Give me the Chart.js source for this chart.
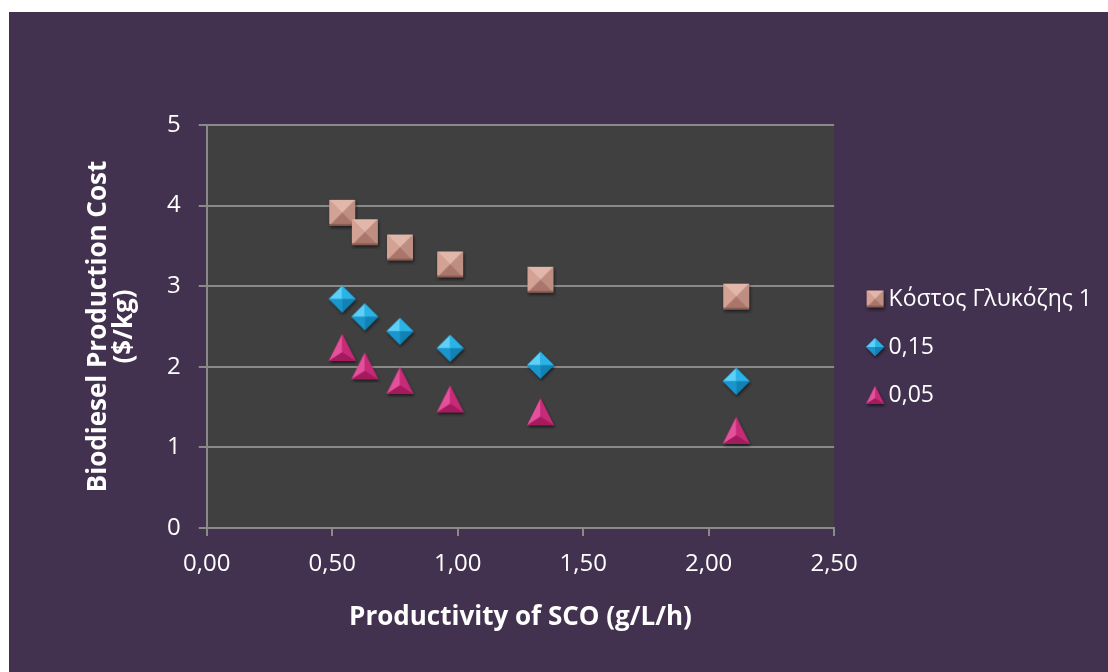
<!DOCTYPE html>
<html>
<head>
<meta charset="utf-8">
<script src="https://cdn.jsdelivr.net/npm/chart.js@4.4.0/dist/chart.umd.min.js"></script>
<style>
  body { margin: 0; background: #ffffff; }
  #wrap { position: absolute; left: 9px; top: 12px; width: 1099px; height: 660px; background: #42314f; }
</style>
</head>
<body>
<div id="wrap"><canvas id="mychart" width="1099" height="660"></canvas></div>
<script>
// values
const xVals = [0.54, 0.63, 0.77, 0.97, 1.33, 2.11];
const costGlucose1 = [3.91, 3.67, 3.48, 3.27, 3.08, 2.87];
const cost015 = [2.84, 2.62, 2.44, 2.23, 2.02, 1.82];
const cost005 = [2.24, 2.01, 1.83, 1.60, 1.44, 1.21];
const seriesNames = ["Κόστος Γλυκόζης 1", "0,15", "0,05"];
const xTitle = "Productivity of SCO (g/L/h)";
const yTitle = ["Biodiesel Production Cost", "($/kg)"];

const FONT = "'Open Sans', 'Noto Sans', sans-serif";

// little bevelled markers like the excel ones
function face(ctx, pts, color) {
  ctx.beginPath();
  ctx.moveTo(pts[0][0], pts[0][1]);
  for (let i = 1; i < pts.length; i++) ctx.lineTo(pts[i][0], pts[i][1]);
  ctx.closePath();
  ctx.fillStyle = color;
  ctx.fill();
}

function makeMarker(kind, s, padL, padR) {
  const m = 4;
  padL = padL || 0;
  padR = padR || 0;
  const c = document.createElement("canvas");
  c.width = s + 2 * m + padL + padR;
  c.height = s + 2 * m;
  const ctx = c.getContext("2d");
  ctx.translate(m + padL, m);
  const h = s / 2;
  // shadow under the marker
  ctx.save();
  ctx.shadowColor = "rgba(0,0,0,0.55)";
  ctx.shadowOffsetX = 1;
  ctx.shadowOffsetY = 2;
  ctx.shadowBlur = 3;
  if (kind == "square") face(ctx, [[0, 0], [s, 0], [s, s], [0, s]], "#b98478");
  if (kind == "diamond") face(ctx, [[h, 0], [s, h], [h, s], [0, h]], "#1690c4");
  if (kind == "triangle") face(ctx, [[h, 0], [s, s], [0, s]], "#c2276f");
  ctx.restore();
  if (kind == "square") {
    const k = s * 0.5;
    face(ctx, [[0, 0], [s, 0], [k, k]], "#e2b7ab");
    face(ctx, [[0, 0], [k, k], [0, s]], "#d3a294");
    face(ctx, [[s, 0], [s, s], [k, k]], "#bf8e82");
    face(ctx, [[0, s], [k, k], [s, s]], "#a8766b");
    face(ctx, [[0, s - 2], [s, s - 2], [s, s], [0, s]], "#8c5d54");
  }
  if (kind == "diamond") {
    face(ctx, [[h, 0], [h, h], [0, h]], "#5cd0f7");
    face(ctx, [[h, 0], [s, h], [h, h]], "#2bb3e8");
    face(ctx, [[s, h], [h, s], [h, h]], "#1282b4");
    face(ctx, [[0, h], [h, h], [h, s]], "#1a96cc");
  }
  if (kind == "triangle") {
    const cy = s * 0.68;
    face(ctx, [[h, 0], [h, cy], [0, s]], "#e4509c");
    face(ctx, [[h, 0], [s, s], [h, cy]], "#c72b78");
    face(ctx, [[0, s], [h, cy], [s, s]], "#a31a5d");
  }
  return c;
}

const bigMarkers = [makeMarker("square", 26), makeMarker("diamond", 27), makeMarker("triangle", 27)];
const smallMarkers = [makeMarker("square", 17, 14, 0), makeMarker("diamond", 18, 14, 0), makeMarker("triangle", 18, 14, 0)];

function toPoints(ys) {
  const pts = [];
  for (let i = 0; i < xVals.length; i++) pts.push({ x: xVals[i], y: ys[i] });
  return pts;
}

// dark plot background
const plotBg = {
  id: "plotBg",
  beforeDraw: (chart) => {
    const a = chart.chartArea;
    const ctx = chart.ctx;
    ctx.save();
    ctx.fillStyle = "#404040";
    ctx.fillRect(a.left, a.top, a.right - a.left, a.bottom - a.top);
    ctx.restore();
  },
};

const lineCol = "#8a8a8a";

const data = {
  datasets: [
    { label: seriesNames[0], data: toPoints(costGlucose1), pointStyle: bigMarkers[0], showLine: false },
    { label: seriesNames[1], data: toPoints(cost015), pointStyle: bigMarkers[1], showLine: false },
    { label: seriesNames[2], data: toPoints(cost005), pointStyle: bigMarkers[2], showLine: false },
  ],
};

const config = {
  type: "scatter",
  data: data,
  options: {
    responsive: false,
    animation: false,
    events: [],
    layout: { padding: { top: 24, bottom: 14, left: 71, right: 6 } },
    scales: {
      x: {
        type: "linear",
        min: 0,
        max: 2.5,
        ticks: {
          stepSize: 0.5,
          color: "#ffffff",
          font: { family: FONT, size: 24 },
          padding: 14,
          callback: (v) => v.toFixed(2).replace(".", ","),
        },
        grid: { drawOnChartArea: false, drawTicks: true, tickLength: 8, color: lineCol, lineWidth: 2 },
        border: { display: true, color: lineCol, width: 2 },
        title: {
          display: true,
          text: xTitle,
          color: "#ffffff",
          font: { family: FONT, size: 26, weight: "bold" },
          padding: { top: 9, bottom: 25 },
        },
      },
      y: {
        min: 0,
        max: 5,
        ticks: {
          stepSize: 1,
          color: "#ffffff",
          font: { family: FONT, size: 24 },
          padding: 18,
        },
        grid: { color: lineCol, lineWidth: 2, tickLength: 8 },
        border: { display: true, color: lineCol, width: 2 },
        title: {
          display: true,
          text: yTitle,
          color: "#ffffff",
          font: { family: FONT, size: 26, weight: "bold", lineHeight: 1.0 },
          padding: { top: 6, bottom: 11 },
        },
      },
    },
    plugins: {
      title: { display: true, text: " ", font: { size: 10 }, padding: { top: 77, bottom: 0 } },
      tooltip: { enabled: false },
      legend: {
        position: "right",
        maxWidth: 300,
        labels: {
          usePointStyle: true,
          pointStyleWidth: 18,
          padding: 25,
          color: "#ffffff",
          font: { family: FONT, size: 23 },
          generateLabels: (chart) => {
            return chart.data.datasets.map((ds, i) => ({
              text: ds.label,
              pointStyle: smallMarkers[i],
              fontColor: "#ffffff",
              datasetIndex: i,
              hidden: false,
              lineWidth: 0,
            }));
          },
        },
      },
    },
  },
  plugins: [plotBg],
};

// wait for the fonts so the text gets measured right
Promise.all([
  document.fonts.load("24px 'Open Sans'"),
  document.fonts.load("bold 26px 'Open Sans'"),
  document.fonts.load("23px 'Open Sans'", "Κόστος"),
]).then(() => {
  const mychart = new Chart(document.getElementById("mychart"), config);
});
</script>
</body>
</html>
